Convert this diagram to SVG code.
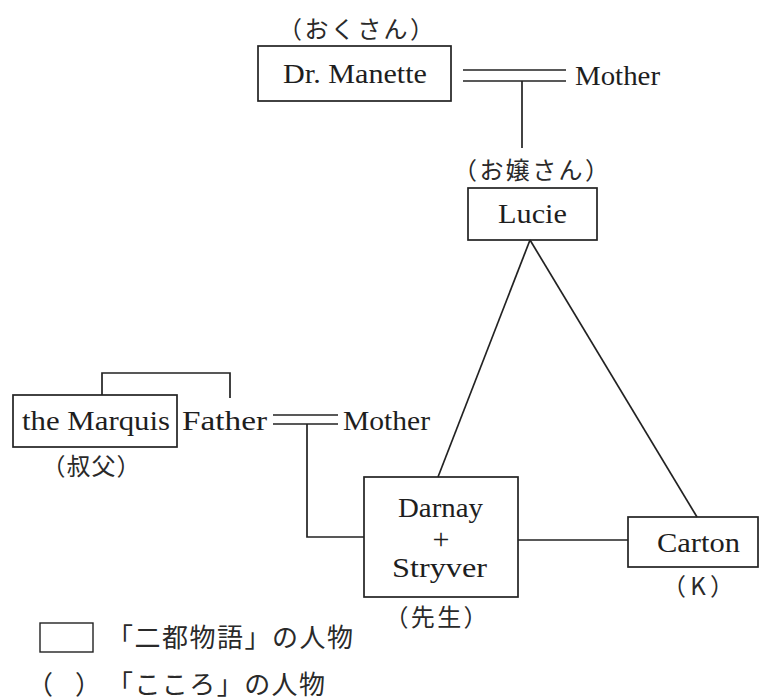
<svg xmlns="http://www.w3.org/2000/svg" width="763" height="700" viewBox="0 0 763 700">
<style>
.box{fill:none;stroke:#222;stroke-width:1.7}
.ln{fill:none;stroke:#222;stroke-width:1.7}
.en{font-family:"Liberation Serif","Times New Roman",serif;font-size:28px;fill:#1e1e1e}
.jp{font-family:"Noto Sans CJK JP",sans-serif;font-size:24px;fill:#2a2a2a}
.lg{font-family:"Noto Sans CJK JP",sans-serif;font-size:26px;fill:#2a2a2a}
</style>
<rect width="763" height="700" fill="#fff"/>
<g id="connectors">
<line class="ln" x1="463" y1="70" x2="566" y2="70"/>
<line class="ln" x1="463" y1="81" x2="566" y2="81"/>
<line class="ln" x1="522" y1="81" x2="522" y2="148"/>
<line class="ln" x1="530" y1="240" x2="438" y2="477"/>
<line class="ln" x1="530" y1="240" x2="697" y2="517"/>
<path class="ln" d="M102,395 V373 H230 V398"/>
<line class="ln" x1="273" y1="415" x2="338" y2="415"/>
<line class="ln" x1="273" y1="424" x2="338" y2="424"/>
<path class="ln" d="M307,424 V537 H364"/>
<line class="ln" x1="518" y1="540" x2="628" y2="540"/>
</g>
<g id="manette">
<rect class="box" x="258" y="46" width="193" height="55"/>
<text class="en" x="283" y="83" textLength="144" lengthAdjust="spacingAndGlyphs">Dr. Manette</text>
<text class="jp" x="356" y="38" text-anchor="middle" textLength="156" lengthAdjust="spacing">（おくさん）</text>
</g>
<g id="mother1">
<text class="en" x="575" y="85" textLength="85" lengthAdjust="spacingAndGlyphs">Mother</text>
</g>
<g id="lucie">
<rect class="box" x="468" y="188" width="129" height="52"/>
<text class="en" x="498" y="223" textLength="69" lengthAdjust="spacingAndGlyphs">Lucie</text>
<text class="jp" x="531" y="179" text-anchor="middle" textLength="156" lengthAdjust="spacing">（お嬢さん）</text>
</g>
<g id="marquis">
<rect class="box" x="13" y="395" width="164" height="52"/>
<text class="en" x="22" y="430" textLength="148" lengthAdjust="spacingAndGlyphs">the  Marquis</text>
<text class="jp" x="91" y="475" text-anchor="middle" textLength="99" lengthAdjust="spacing">（叔父）</text>
</g>
<g id="father">
<text class="en" x="182" y="430" textLength="85" lengthAdjust="spacingAndGlyphs">Father</text>
</g>
<g id="mother2">
<text class="en" x="343" y="430" textLength="87" lengthAdjust="spacingAndGlyphs">Mother</text>
</g>
<g id="darnay">
<rect class="box" x="364" y="477" width="154" height="120"/>
<text class="en" x="398" y="517" textLength="85" lengthAdjust="spacingAndGlyphs">Darnay</text>
<text class="en" x="441" y="549" text-anchor="middle" style="font-size:30px">+</text>
<text class="en" x="392" y="577" textLength="95" lengthAdjust="spacingAndGlyphs">Stryver</text>
<text class="jp" x="436" y="626" text-anchor="middle" textLength="103" lengthAdjust="spacing">（先生）</text>
</g>
<g id="carton">
<rect class="box" x="628" y="517" width="130" height="50"/>
<text class="en" x="657" y="552" textLength="83" lengthAdjust="spacingAndGlyphs">Carton</text>
<text class="jp" x="698" y="595" text-anchor="middle" textLength="72" lengthAdjust="spacing">（K）</text>
</g>
<g id="legend">
<rect class="box" x="40" y="623" width="53" height="29" style="stroke-width:1.4"/>
<text class="lg" x="107" y="647" textLength="246" lengthAdjust="spacing">「二都物語」の人物</text>
<text class="lg" x="27" y="694" textLength="74" lengthAdjust="spacing">（　）</text>
<text class="lg" x="107" y="694" textLength="218" lengthAdjust="spacing">「こころ」の人物</text>
</g>
</svg>
